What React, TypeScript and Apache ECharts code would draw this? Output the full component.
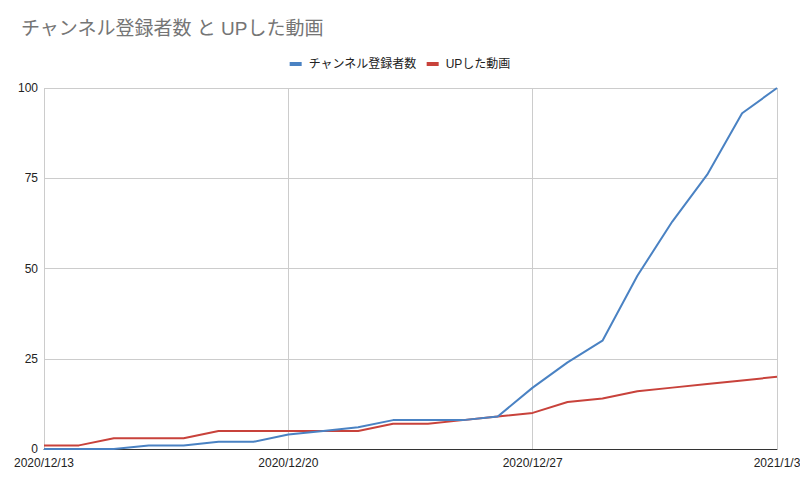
import React, { useEffect, useRef } from "react";
import * as echarts from "echarts";

const dates = [
  "2020/12/13", "2020/12/14", "2020/12/15", "2020/12/16", "2020/12/17", "2020/12/18", "2020/12/19",
  "2020/12/20", "2020/12/21", "2020/12/22", "2020/12/23", "2020/12/24", "2020/12/25", "2020/12/26",
  "2020/12/27", "2020/12/28", "2020/12/29", "2020/12/30", "2020/12/31", "2021/1/1", "2021/1/2", "2021/1/3",
];
const subscribers = [0, 0, 0, 1, 1, 2, 2, 4, 5, 6, 8, 8, 8, 9, 17, 24, 30, 48, 63, 76, 93, 100];
const videos = [1, 1, 3, 3, 3, 5, 5, 5, 5, 5, 7, 7, 8, 9, 10, 13, 14, 16, 17, 18, 19, 20];
const yTicks = [0, 25, 50, 75, 100];

const FONT = "Arial, 'Liberation Sans', 'Noto Sans CJK JP', sans-serif";

export default function App() {
  const ref = useRef<HTMLDivElement>(null);
  useEffect(() => {
    if (!ref.current) return;
    const chart = echarts.init(ref.current, undefined, { renderer: "svg" });
    chart.setOption({
      animation: false,
      backgroundColor: "#ffffff",
      title: {
        text: "チャンネル登録者数 と UPした動画",
        left: 16,
        top: 14,
        textStyle: { fontFamily: FONT, fontSize: 19, fontWeight: "normal", color: "#757575" },
      },
      legend: {
        top: 53,
        left: "center",
        icon: "rect",
        itemWidth: 12,
        itemHeight: 4,
        itemGap: 10,
        textStyle: { fontFamily: FONT, fontSize: 12, color: "#222", padding: [0, 0, 0, 2] },
        data: ["チャンネル登録者数", "UPした動画"],
      },
      grid: { left: 44, right: 23, top: 88, bottom: 32, containLabel: false, outerBoundsMode: "none" },
      xAxis: {
        type: "category",
        data: dates,
        boundaryGap: false,
        axisLine: { show: true, lineStyle: { color: "#333", width: 1 } },
        axisTick: { show: false },
        axisLabel: {
          interval: 6,
          fontFamily: FONT,
          fontSize: 12,
          color: "#222",
          margin: 8,
        },
        splitLine: { show: true, interval: 6, lineStyle: { color: "#cccccc", width: 1 } },
      },
      yAxis: {
        type: "value",
        min: yTicks[0],
        max: yTicks[yTicks.length - 1],
        interval: 25,
        axisLine: { show: false },
        axisTick: { show: false },
        axisLabel: { fontFamily: FONT, fontSize: 12, color: "#222", margin: 6 },
        splitLine: { show: true, lineStyle: { color: "#cccccc", width: 1 } },
      },
      series: [
        {
          name: "チャンネル登録者数",
          type: "line",
          data: subscribers,
          showSymbol: false,
          symbol: "none",
          lineStyle: { color: "#4a82c3", width: 2 },
          itemStyle: { color: "#4a82c3" },
          z: 3,
        },
        {
          name: "UPした動画",
          type: "line",
          data: videos,
          showSymbol: false,
          symbol: "none",
          lineStyle: { color: "#c8423b", width: 2 },
          itemStyle: { color: "#c8423b" },
          z: 2,
        },
      ],
    });
    return () => chart.dispose();
  }, []);
  return <div ref={ref} style={{ width: 800, height: 481, position: "absolute", left: 0, top: 0 }} />;
}
